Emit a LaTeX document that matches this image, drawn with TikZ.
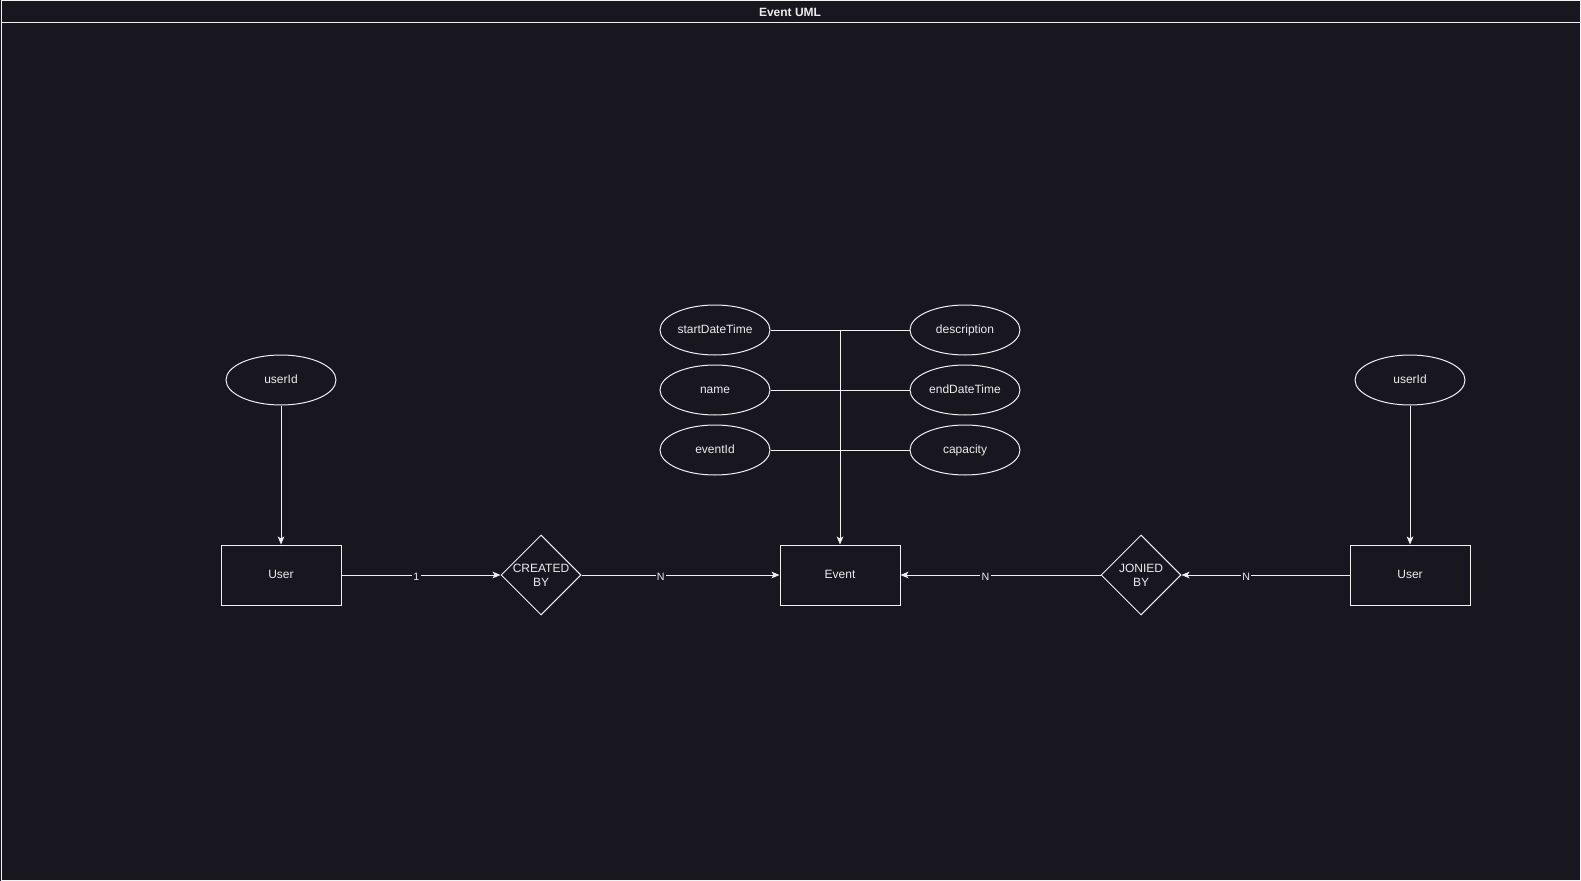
\documentclass[tikz,border=0pt]{standalone}
\usepackage{fontspec}
\setmainfont{Liberation Sans}
\usetikzlibrary{shapes.geometric, arrows.meta, positioning, calc}
\usepackage{xcolor}
\definecolor{canvas}{RGB}{24,23,31}
\definecolor{ink}{RGB}{240,240,240}
\definecolor{txt}{RGB}{236,236,236}

\begin{document}
\begin{tikzpicture}[x=0.75pt, y=-0.75pt, font=\fontsize{9}{10.5}\selectfont,
  >={Stealth[length=6pt, width=5pt, inset=1.5pt]},
  entity/.style={draw=ink, line width=0.75pt, minimum width=90pt, minimum height=45pt, inner sep=0pt,
    text height=6.6pt, text depth=1.9pt, text=txt},
  attr/.style={draw=ink, line width=0.75pt, ellipse, minimum width=82.5pt, minimum height=37.5pt, inner sep=0pt,
    text height=6.6pt, text depth=1.9pt, text=txt},
  rel/.style={draw=ink, line width=0.75pt, diamond, minimum width=60pt, minimum height=60pt, inner sep=-2pt, align=center, text=txt},
  card/.style={fill=canvas, text=txt, font=\fontsize{8}{9}\selectfont, inner sep=1pt, yshift=-1pt},
  link/.style={draw=ink, line width=0.75pt}]

  % Canvas and frame
  \fill[canvas] (0,0) rectangle (1581,881);
  \useasboundingbox (0,0) rectangle (1581,881);
  \draw[ink!80, line width=0.75pt] (1,1) rectangle (1580,880);
  \draw[ink, line width=0.75pt] (1,23) -- (1580,23);
  \node[text=txt, font=\bfseries\fontsize{9}{10.5}\selectfont] (title) at (790,12) {Event UML};

  % Entities
  \node[entity] (userL) at (281,575) {User};
  \node[entity] (event) at (840,575) {Event};
  \node[entity] (userR) at (1410,575) {User};

  % Relationships
  \node[rel] (createdBy) at (541,575) {CREATED\\BY};
  \node[rel] (joinedBy) at (1141,575) {JONIED\\BY};

  % Attributes
  \node[attr] (userIdL) at (281,380) {userId};
  \node[attr] (userIdR) at (1410,380) {userId};
  \foreach \nm/\lbl/\x/\y in {startDT/startDateTime/715/330, name/name/715/390,
    eventId/eventId/715/450, descr/description/965/330,
    endDT/endDateTime/965/390, capacity/capacity/965/450} {
    \node[attr] (\nm) at (\x,\y) {\lbl};
  }

  % Attribute links into Event
  \foreach \nm in {startDT, name, eventId, descr, endDT, capacity} {
    \draw[link] (\nm) -- (\nm -| event);
  }
  \draw[link, ->] (startDT -| event) -- (event);
  \draw[link, ->] (userIdL) -- (userL);
  \draw[link, ->] (userIdR) -- (userR);

  % Relationship links
  \draw[link, ->] (userL) -- node[card, pos=0.47] {1} (createdBy);
  \draw[link, ->] (createdBy) -- node[card, pos=0.4] {N} (event);
  \draw[link, ->] (joinedBy) -- node[card, pos=0.575] {N} (event);
  \draw[link, ->] (userR) -- node[card, pos=0.615] {N} (joinedBy);
\end{tikzpicture}
\end{document}
